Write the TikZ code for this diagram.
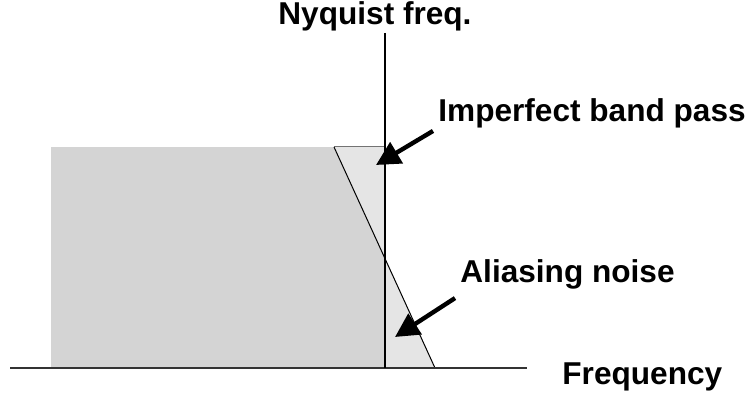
\documentclass[tikz,border=0pt]{standalone}
\usepackage{fontspec}
\setmainfont{Liberation Sans}
\usetikzlibrary{arrows.meta,positioning}

\begin{document}
\begin{tikzpicture}[x=0.5pt, y=-0.5pt,
    lbl/.style={font=\fontsize{15.8}{19}\selectfont\bfseries, inner sep=0pt, anchor=base west},
    pointer/.style={line width=2.2pt, -{Triangle[length=12pt, width=12pt]}}]
    \useasboundingbox (0,0) rectangle (750,400);

    % pass band (darker) and imperfect edge (lighter)
    \fill[black!17] (51,147) rectangle (385,368);
    \fill[black!10] (334,147) -- (385,147) -- (385,368) -- (435,368) -- cycle;
    \draw[black!55, line width=0.5pt] (334,147) -- (385,147);
    \draw[line width=0.5pt] (334,147) -- (435,368);

    % axis and Nyquist line
    \coordinate (ax0) at (10,368);
    \coordinate (ax1) at (527,368);
    \coordinate (ny0) at (385,33);
    \coordinate (ny1) at (385,368);
    \draw[black!80, line width=1pt] (ax0) -- (ax1);
    \draw[line width=0.6pt] (ny0) -- (ny1);

    % labels
    \node[lbl] (nyq) at (278,25) {Nyquist freq.};
    \node[lbl] (imp) at (438,122) {Imperfect band pass};
    \node[lbl] (ali) at (460,283) {Aliasing noise};
    \node[lbl] (frq) at (562,385) {Frequency};

    % pointers
    \coordinate (impTip) at (376,165);
    \coordinate (aliTip) at (395,337);
    \draw[pointer] ([shift={(-5,2)}]imp.south west) -- (impTip);
    \draw[pointer] ([shift={(-5,8)}]ali.south west) -- (aliTip);
\end{tikzpicture}
\end{document}
